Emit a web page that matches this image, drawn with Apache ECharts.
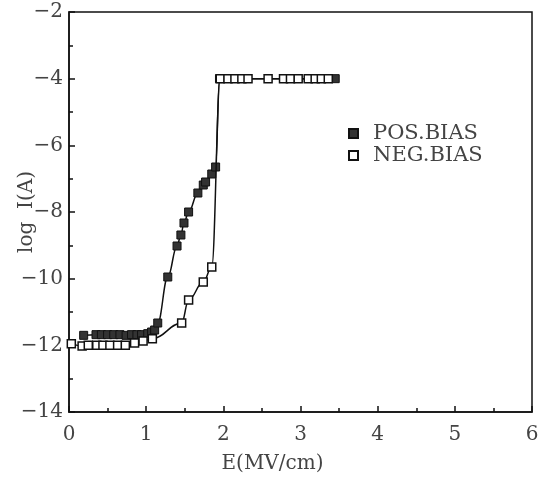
<!DOCTYPE html>
<html>
<head>
<meta charset="utf-8">
<script src="https://cdn.jsdelivr.net/npm/echarts@6/dist/echarts.min.js"></script>
<style>
html,body{margin:0;padding:0;background:#fff;}
#chart{width:548px;height:478px;}
</style>
</head>
<body>
<div id="chart"></div>
<script>
// Data
const posX = [0.19, 0.35, 0.42, 0.50, 0.58, 0.66, 0.74, 0.81, 0.88, 0.94, 1.02, 1.07, 1.11, 1.15, 1.28, 1.40, 1.45, 1.49, 1.55, 1.67, 1.74, 1.77, 1.85, 1.90, 1.95, 3.45];
const posY = [-11.7, -11.68, -11.68, -11.68, -11.68, -11.68, -11.7, -11.68, -11.68, -11.68, -11.65, -11.6, -11.54, -11.33, -9.95, -9.02, -8.69, -8.33, -8.0, -7.43, -7.19, -7.10, -6.86, -6.65, -4.0, -4.0];
const negX = [0.03, 0.17, 0.25, 0.36, 0.44, 0.53, 0.63, 0.73, 0.85, 0.96, 1.08, 1.46, 1.55, 1.74, 1.85, 1.96, 2.06, 2.15, 2.24, 2.32, 2.58, 2.78, 2.87, 2.97, 3.10, 3.19, 3.27, 3.36];
const negY = [-11.95, -12.02, -12.0, -12.0, -12.0, -12.0, -12.0, -12.0, -11.93, -11.87, -11.8, -11.33, -10.64, -10.1, -9.65, -4.0, -4.0, -4.0, -4.0, -4.0, -4.0, -4.0, -4.0, -4.0, -4.0, -4.0, -4.0, -4.0];
const seriesNames = ['POS.BIAS', 'NEG.BIAS'];
const xTicks = [0, 1, 2, 3, 4, 5, 6];
const yTicks = [-14, -12, -10, -8, -6, -4, -2];

const zip = (a, b) => a.map((v, i) => [v, b[i]]);
const FONT = 'DejaVu Serif';
const chart = echarts.init(document.getElementById('chart'), null, {renderer: 'canvas'});
chart.setOption({
  animation: false,
  backgroundColor: '#fff',
  grid: {left: 69, right: 16, top: 12, bottom: 66, containLabel: false, outerBoundsMode: 'none',
    show: true, borderColor: '#111', borderWidth: 1.5},
  legend: {
    orient: 'vertical', left: 343, top: 118, itemGap: 1,
    itemWidth: 9, itemHeight: 9,
    textStyle: {fontFamily: FONT, fontSize: 21, color: '#444', padding: [0, 0, 0, 10]},
    data: [{name: seriesNames[0], icon: 'rect'}, {name: seriesNames[1], icon: 'rect'}]
  },
  xAxis: {
    type: 'value', min: xTicks[0], max: xTicks[xTicks.length - 1], interval: 1,
    name: 'E(MV/cm)', nameLocation: 'middle', nameGap: 42, nameMoveOverlap: false,
    nameTextStyle: {fontFamily: FONT, fontSize: 20, color: '#444', padding: [0, 56, 0, 0]},
    axisLine: {lineStyle: {color: '#111', width: 1.5}},
    axisTick: {inside: true, length: 6, lineStyle: {color: '#111', width: 1.5}},
    minorTick: {show: true, splitNumber: 2, length: 4, lineStyle: {color: '#111', width: 1.5}},
    axisLabel: {margin: 13, fontFamily: FONT, fontSize: 20, color: '#444'},
    splitLine: {show: false}
  },
  yAxis: {
    type: 'value', min: yTicks[0], max: yTicks[yTicks.length - 1], interval: 2,
    name: 'log  I(A)', nameLocation: 'middle', nameGap: 32, nameMoveOverlap: false,
    nameTextStyle: {fontFamily: FONT, fontSize: 20, color: '#444'},
    axisLine: {lineStyle: {color: '#111', width: 1.5}},
    axisTick: {inside: true, length: 6, lineStyle: {color: '#111', width: 1.5}},
    minorTick: {show: true, splitNumber: 2, length: 4, lineStyle: {color: '#111', width: 1.5}},
    axisLabel: {margin: 6, fontFamily: FONT, fontSize: 20, color: '#444',
      formatter: v => (v < 0 ? '\u2212' : '') + Math.abs(v)},
    splitLine: {show: false}
  },
  series: [
    {
      name: seriesNames[0], type: 'line', data: zip(posX, posY),
      smooth: 0.4, smoothMonotone: 'x',
      symbol: 'rect', symbolSize: 8,
      lineStyle: {color: '#111', width: 1.5},
      itemStyle: {color: '#333', borderColor: '#111', borderWidth: 1},
      z: 2
    },
    {
      name: seriesNames[1], type: 'line', data: zip(negX, negY),
      smooth: 0.4, smoothMonotone: 'x',
      symbol: 'rect', symbolSize: 8,
      lineStyle: {color: '#111', width: 1.5},
      itemStyle: {color: '#fff', borderColor: '#111', borderWidth: 1.5},
      z: 3
    }
  ]
});
</script>
</body>
</html>
